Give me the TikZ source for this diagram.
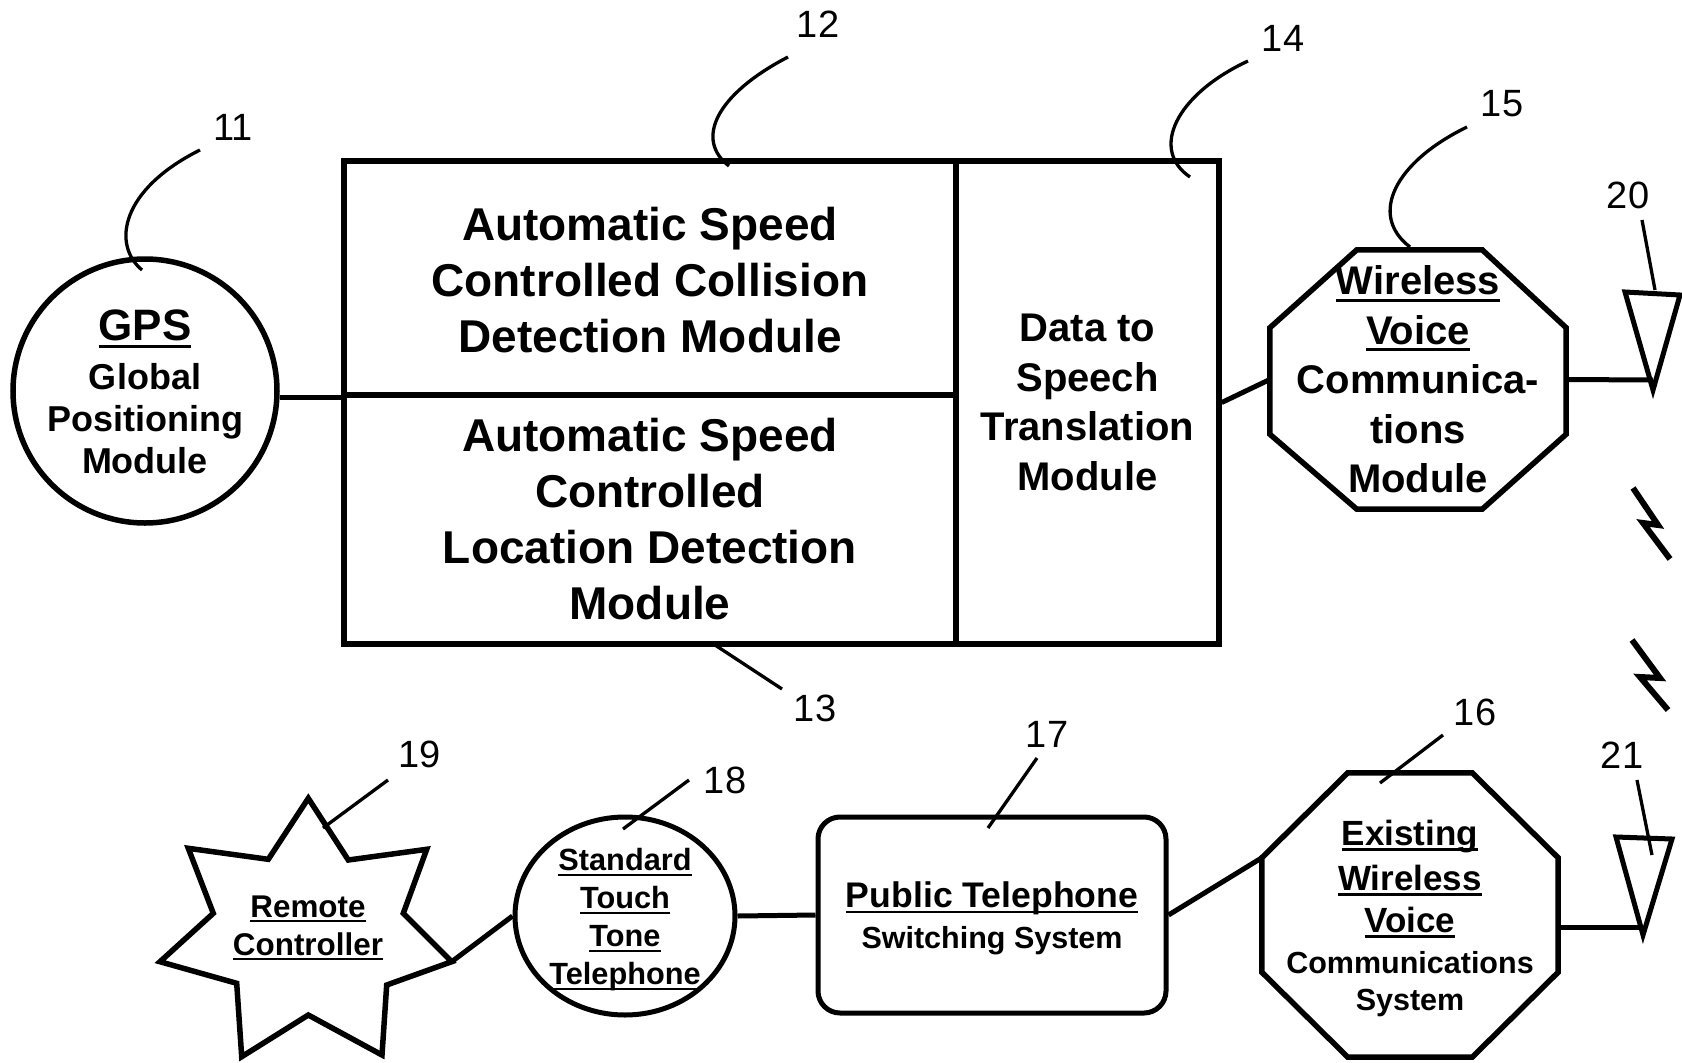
\documentclass[tikz,border=0pt]{standalone}
\usepackage{fontspec}
\setmainfont{Liberation Sans}
\usetikzlibrary{calc,shapes.geometric}
\newcommand\myul[1]{\setbox0\hbox{#1}\leavevmode\rlap{\rule[-0.17em]{\wd0}{0.075em}}\box0}
\begin{document}
\begin{tikzpicture}[x=1pt,y=-1pt,
  box/.style={draw, line width=5.5pt, inner sep=0pt, align=center},
  conn/.style={line width=5pt},
  lead/.style={line width=3.3pt},
  outline/.style={line width=5.5pt, line join=miter},
  lbl/.style={font=\fontsize{38}{38}\selectfont, inner sep=0pt},
  txt/.style={align=center, inner sep=0pt},
  bigf/.style={font=\fontsize{46}{56}\selectfont\bfseries},
  midf/.style={font=\fontsize{40}{49.5}\selectfont\bfseries}
]
\path[fill=white, use as bounding box] (0,0) rectangle (1682,1063);

% main box
\node[box, bigf, minimum width=612pt, minimum height=234pt] (b12) at (650,278) {};
\node[txt, bigf] (b12t) at (650,280.5)
  {Automatic Speed\\Controlled Collision\\Detection Module};
\node[box, bigf, minimum width=612pt, minimum height=249pt] (b13) at (650,519.5)
  {Automatic Speed\\Controlled\\Location Detection\\Module};
\node[box, midf, minimum width=263pt, minimum height=483pt] (b14) at (1087.5,402.5)
  {Data to\\Speech\\Translation\\Module};

% GPS
\node[draw, circle, line width=5.5pt, minimum size=264pt, inner sep=0pt] (gps) at (145,391) {};
\node[txt, font=\fontsize{36}{42}\selectfont\bfseries] (gpst) at ($(gps.center)+(0,1)$)
  {{\fontsize{44}{44}\selectfont\myul{GPS}}\\[7pt]Global\\Positioning\\Module};

% wireless voice module (octagon)
\node[txt, midf, minimum width=296pt, minimum height=259pt] (wv) at (1418,379.5)
  {\myul{Wireless}\\\myul{Voice}\\Communica-\\tions\\Module};
\draw[outline] ($(wv.north west)+(87,0)$) -- ($(wv.north east)+(-84,0)$)
  -- ($(wv.north east)+(0,78)$) -- ($(wv.south east)+(0,-75)$)
  -- ($(wv.south east)+(-84,0)$) -- ($(wv.south west)+(87,0)$)
  -- ($(wv.south west)+(0,-75)$) -- ($(wv.north west)+(0,78)$) -- cycle;

% existing wireless voice communications system (octagon)
\node[minimum width=296pt, minimum height=284pt, inner sep=0pt] (ex) at (1410,915) {};
\node[txt, font=\fontsize{35}{43}\selectfont\bfseries] (ext) at (1410,918)
  {\myul{Existing}\\[2pt]\myul{Wireless}\\[-1pt]\myul{Voice}\\[-2pt]{\fontsize{30.5}{36}\selectfont Communications}\\[-6pt]{\fontsize{30.5}{36}\selectfont System}};
\draw[outline] ($(ex.north west)+(86,0)$) -- ($(ex.north east)+(-86,0)$)
  -- ($(ex.north east)+(0,85)$) -- ($(ex.south east)+(0,-85)$)
  -- ($(ex.south east)+(-86,0)$) -- ($(ex.south west)+(86,0)$)
  -- ($(ex.south west)+(0,-85)$) -- ($(ex.north west)+(0,85)$) -- cycle;

% public telephone switching system
\node[draw, rounded corners=22pt, line width=5pt, minimum width=348pt, minimum height=196pt, inner sep=0pt] (b17) at (992,915) {};
\node[txt, font=\fontsize{35.6}{41}\selectfont\bfseries] (b17t) at (992,918)
  {\myul{Public Telephone}\\{\fontsize{30.5}{36}\selectfont Switching System}};

% standard touch tone telephone
\node[draw, ellipse, line width=5pt, minimum width=220pt, minimum height=198pt, inner sep=0pt] (tel) at (625,916) {};
\node[txt, font=\fontsize{30.7}{38}\selectfont\bfseries] (telt) at ($(tel.center)+(0,4)$)
  {\myul{Standard}\\\myul{Touch}\\\myul{Tone}\\\myul{Telephone}};

% remote controller (star)
\draw[outline] (308.3,798.3) -- (348.3,860) -- (426.7,849.3) -- (403.3,913.3) -- (451.7,961.7)
  -- (386.7,985) -- (382,1055) -- (308.3,1015) -- (241.7,1056.7) -- (236.7,983.3)
  -- (160,961.7) -- (213.3,913.3) -- (188.3,848.3) -- (268.3,859.3) -- cycle;
\coordinate (starR) at (451.7,961.7);
\node[txt, font=\fontsize{31.4}{38}\selectfont\bfseries] (rc) at (308,928)
  {\myul{Remote}\\\myul{Controller}};

% antennas
\coordinate (a20) at (1653,380);
\coordinate (a21) at (1643,927);
\draw[outline, line width=5pt] ($(a20)+(-28,-88)$) -- ($(a20)+(27,-85)$) -- ($(a20)+(0,10)$) -- cycle;
\draw[outline, line width=5pt] ($(a21)+(-27,-90)$) -- ($(a21)+(29,-88)$) -- ($(a21)+(0,8)$) -- cycle;

% lightning
\draw[line width=6pt, line join=miter] (1633,488) -- (1658,525) -- (1643,523) -- (1670,559);
\draw[line width=6pt, line join=miter] (1632,640) -- (1660,678) -- (1640,677) -- (1668,710);

% connectors
\draw[conn] (b12.south west) -- (b12.south west -| gps.east);
\draw[conn] (b14.east) -- (wv.west);
\draw[conn] (wv.east) -- (a20);
\draw[conn] (ex.east |- a21) -- (a21);
\draw[conn] (b17.east) -- ($(ex.north west)+(0,85)$);
\draw[conn] (tel.east) -- (b17.west);
\draw[conn] (starR) -- (tel.west);

% labels
\node[lbl] (n11) at (233,127) {11};
\node[lbl] (n12) at (818,24) {12};
\node[lbl] (n13) at (815,708) {13};
\node[lbl] (n14) at (1283,38) {14};
\node[lbl] (n15) at (1502,104) {15};
\node[lbl] (n16) at (1475,712) {16};
\node[lbl] (n17) at (1047,734) {17};
\node[lbl] (n18) at (725,780) {18};
\node[lbl] (n19) at (420,754) {19};
\node[lbl] (n20) at (1628,195) {20};
\node[lbl] (n21) at (1622,755) {21};

% leader end points
\coordinate (l11a) at (200,150); \coordinate (l11b) at (142,270);
\coordinate (l12a) at (788,57);  \coordinate (l12b) at (729,166);
\coordinate (l14a) at (1248,61); \coordinate (l14b) at (1190,177);
\coordinate (l15a) at (1467,127); \coordinate (l15b) at (1410,247);
\coordinate (l13a) at (715,645); \coordinate (l13b) at (782,689);
\coordinate (l17a) at (1037,758); \coordinate (l17b) at (988,828);
\coordinate (l16a) at (1443,735); \coordinate (l16b) at (1380,783);
\coordinate (l18a) at (689,780); \coordinate (l18b) at (623,829);
\coordinate (l19a) at (388,780); \coordinate (l19b) at (323,828);
\coordinate (l20a) at (1642,220); \coordinate (l20b) at (1655,290);
\coordinate (l21a) at (1637,780); \coordinate (l21b) at (1652,855);

\draw[lead] (l11a) .. controls (120,190) and (112,245) .. (l11b);
\draw[lead] (l12a) .. controls (715,95) and (695,140) .. (l12b);
\draw[lead] (l14a) .. controls (1175,95) and (1150,150) .. (l14b);
\draw[lead] (l15a) .. controls (1395,162) and (1368,215) .. (l15b);
\draw[lead] (l13a) -- (l13b);
\draw[lead] (l17a) -- (l17b);
\draw[lead] (l16a) -- (l16b);
\draw[lead] (l18a) -- (l18b);
\draw[lead] (l19a) -- (l19b);
\draw[lead] (l20a) -- (l20b);
\draw[lead] (l21a) -- (l21b);
\end{tikzpicture}
\end{document}
